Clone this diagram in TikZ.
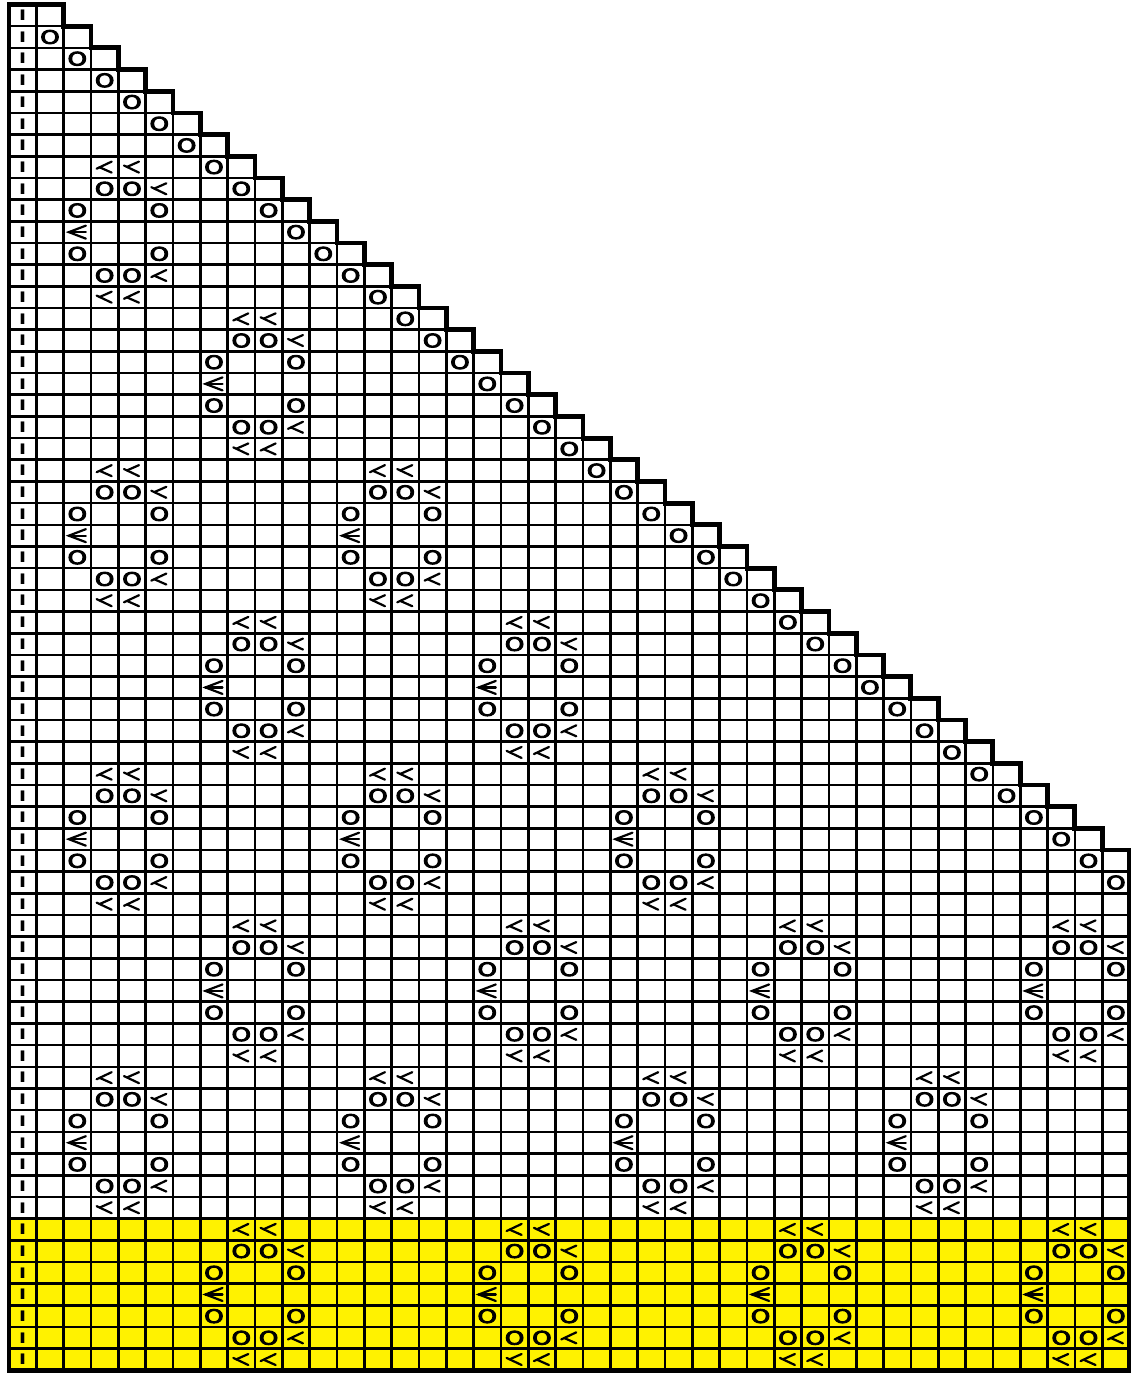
\documentclass[tikz,border=0pt]{standalone}
\usepackage{fontspec}
\usepackage{graphicx}
\newfontfamily\chartfont{DejaVu Sans}
\newfontfamily\ofont{DejaVu Sans}[FakeBold=5]
\newcommand\chX{9}
\newcommand\chW{27.33}
\newcommand\chY{4.5}
\newcommand\chH{21.68}
\tikzset{
  gridline/.style={line width=2.6pt, black},
  borderline/.style={line width=4.8pt, black, line join=miter},
  symline/.style={line width=2.2pt, black, line cap=round},
  otext/.style={inner sep=0pt, font=\ofont\fontsize{18.5}{18.5}\selectfont},
  itext/.style={inner sep=0pt, font=\chartfont\bfseries\fontsize{14.5}{14.5}\selectfont},
  pics/yo/.style={code={\node[otext] (-o) {\scalebox{1.33}[1]{O}};}},
  pics/decL/.style={code={\draw[symline] (-8,-1.6) -- (7,5.5); \draw[symline] (-5,-0.2) -- (7,-5.5);}},
  pics/decM/.style={code={\draw[symline] (-8,1.6) -- (7,-5.5); \draw[symline] (-5,0.2) -- (7,5.5);}},
  pics/cdd/.style={code={\draw[symline, line join=miter] (8.5,6.5) -- (-8.5,0) -- (8.5,-6.5); \draw[symline] (-8.5,0) -- (8.5,0);}},
}
\begin{document}
\begin{tikzpicture}[x=1pt,y=1pt]
\useasboundingbox (0,0) rectangle (1131,-1374);
\fill[white] (0,0) rectangle (1131,-1374);
\fill[yellow] ({\chX},{-\chY-56*\chH}) rectangle ({\chX+41*\chW},{-\chY-63*\chH});
% inner horizontal lines
\foreach \r in {1,...,62} {
  \pgfmathsetmacro\ce{min(\r,40)+1}
  \draw[gridline] ({\chX},{-\chY-\r*\chH}) -- ({\chX+\ce*\chW},{-\chY-\r*\chH});
}
% inner vertical lines
\foreach \c in {1,...,40} {
  \draw[gridline] ({\chX+\c*\chW},{-\chY-(\c-1)*\chH}) -- ({\chX+\c*\chW},{-\chY-63*\chH});
}
% outer staircase border
\draw[borderline] ({\chX},{-\chY})
  foreach \r in {1,...,40} { -- ({\chX+(\r+1)*\chW},{-\chY-(\r-1)*\chH}) -- ({\chX+(\r+1)*\chW},{-\chY-\r*\chH}) }
  -- ({\chX+41*\chW},{-\chY-63*\chH}) -- ({\chX},{-\chY-63*\chH}) -- cycle;
% knit column
\foreach \r in {1,...,63} {
  \pgfmathsetmacro\py{-\chY-(\r-0.5)*\chH}
  \node[itext] (knit-\r) at ({\chX+0.5*\chW},\py) {\scalebox{1.3}[1]{I}};
}
% edge yarn overs
\foreach \r in {2,...,41} {
  \pgfmathtruncatemacro\cc{\r-1}
  \pgfmathsetmacro\px{\chX+(\cc+0.5)*\chW}
  \pgfmathsetmacro\py{-\chY-(\r-0.5)*\chH}
  \pic (d-\r) at (\px,\py) {yo};
}
% lace motifs
\foreach \R/\k in {8/2,15/7,22/2,22/12,29/7,29/17,36/2,36/12,36/22,43/7,43/17,43/27,43/37,50/2,50/12,50/22,50/32,57/7,57/17,57/27,57/37} {
  \foreach \dr/\dc/\t in {0/1/decL,0/2/decM,1/1/yo,1/2/yo,1/3/decM,2/0/yo,2/3/yo,3/0/cdd,4/0/yo,4/3/yo,5/1/yo,5/2/yo,5/3/decL,6/1/decM,6/2/decL} {
    \pgfmathtruncatemacro\rr{\R+\dr}
    \pgfmathtruncatemacro\cc{\k+\dc}
    \pgfmathsetmacro\px{\chX+(\cc+0.5)*\chW}
    \pgfmathsetmacro\py{-\chY-(\rr-0.5)*\chH}
    \edef\act{\noexpand\pic (m-\rr-\cc) at (\px,\py) {\t};}
    \act
  }
}
\end{tikzpicture}
\end{document}
